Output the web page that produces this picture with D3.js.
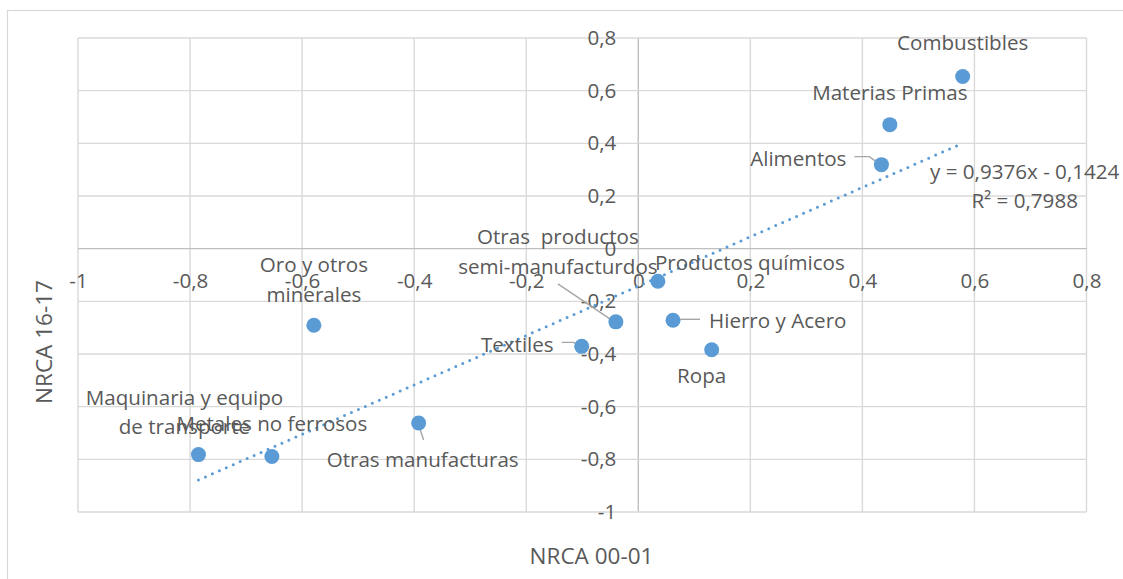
<!DOCTYPE html>
<html lang="es">
<head>
<meta charset="utf-8">
<script src="https://cdn.jsdelivr.net/npm/d3@7"></script>
<style>
  html, body { margin: 0; padding: 0; background: #fff; }
  svg { display: block; }
  text { font-family: "Open Sans", "DejaVu Sans", sans-serif; fill: #595959; }
</style>
</head>
<body>
<svg id="chart" width="1123" height="579"></svg>
<script>
// Product groups and their normalized RCA in 2000-01 (x) and 2016-17 (y)
const categories = [
  "Combustibles", "Materias Primas", "Alimentos", "Productos químicos",
  "Otras  productos semi-manufacturdos", "Hierro y Acero", "Ropa", "Textiles",
  "Otras manufacturas", "Oro y otros minerales", "Maquinaria y equipo de transporte",
  "Metales no ferrosos"
];
const nrca0001 = [0.579, 0.449, 0.434, 0.035, -0.040, 0.062, 0.131, -0.101, -0.392, -0.579, -0.785, -0.654];
const nrca1617 = [0.654, 0.471, 0.319, -0.124, -0.278, -0.272, -0.384, -0.371, -0.662, -0.291, -0.782, -0.789];

// Linear trend line
const trendSlope = 0.9376;
const trendIntercept = -0.1424;
const trendR2 = 0.7988;

// Axis ticks
const xTicks = [-1, -0.8, -0.6, -0.4, -0.2, 0, 0.2, 0.4, 0.6, 0.8];
const yTicks = [-1, -0.8, -0.6, -0.4, -0.2, 0, 0.2, 0.4, 0.6, 0.8];

// Label placement around each point: text lines, anchor, offsets, optional leader
const labelLayout = [
  { lines: ["Combustibles"], anchor: "middle", dx: 0, dy: [-34] },
  { lines: ["Materias Primas"], anchor: "middle", dx: 0, dy: [-32] },
  { lines: ["Alimentos"], anchor: "end", dx: -35, dy: [-6], leader: [[-27, -8], [-12, -8], [-4, -2]] },
  { lines: ["Productos químicos"], anchor: "start", dx: -3, dy: [-19] },
  { lines: ["Otras  productos", "semi-manufacturdos"], anchor: "middle", dx: -58, dy: [-85, -55], leader: [[-58, -38], [-3, -1]] },
  { lines: ["Hierro y Acero"], anchor: "start", dx: 36, dy: [0], leader: [[2, -1], [27, -1]] },
  { lines: ["Ropa"], anchor: "middle", dx: -10, dy: [26] },
  { lines: ["Textiles"], anchor: "end", dx: -28, dy: [-2], leader: [[-20, -4], [-8, -4], [-2, 0]] },
  { lines: ["Otras manufacturas"], anchor: "middle", dx: 4, dy: [37], leader: [[0, 2], [5, 17]] },
  { lines: ["Oro y otros", "minerales"], anchor: "middle", dx: 0, dy: [-61, -31] },
  { lines: ["Maquinaria y equipo", "de transporte"], anchor: "middle", dx: -14, dy: [-57, -28] },
  { lines: ["Metales no ferrosos"], anchor: "middle", dx: 0, dy: [-33] }
];

const FS = "20.6px";
const svg = d3.select("#chart");
const fmt = v => (v === 0 ? "0" : String(+v.toFixed(1)).replace(".", ","));

const x = d3.scaleLinear().domain([-1, 0.8]).range([78, 1086.5]);
const y = d3.scaleLinear().domain([-1, 0.8]).range([512, 38]);

// Chart frame
svg.append("rect")
  .attr("x", 7.5).attr("y", 10.5).attr("width", 1200).attr("height", 700)
  .attr("fill", "none").attr("stroke", "#d9d9d9").attr("stroke-width", 1.2);

// Gridlines
const grid = svg.append("g");
grid.selectAll("line.v").data(xTicks).join("line")
  .attr("x1", d => x(d)).attr("x2", d => x(d))
  .attr("y1", y(0.8)).attr("y2", y(-1))
  .attr("stroke", d => d === 0 ? "#bfbfbf" : "#d9d9d9").attr("stroke-width", 1.4);
grid.selectAll("line.h").data(yTicks).join("line")
  .attr("y1", d => y(d)).attr("y2", d => y(d))
  .attr("x1", x(-1)).attr("x2", x(0.8))
  .attr("stroke", d => d === 0 ? "#bfbfbf" : "#d9d9d9").attr("stroke-width", 1.4);

// Axes crossing at the origin
const xAxis = d3.axisBottom(x).tickValues(xTicks).tickFormat(fmt).tickSize(0).tickPadding(20);
const xg = svg.append("g").attr("transform", `translate(0,${y(0)})`).call(xAxis);
xg.select(".domain").remove();
xg.selectAll("text").attr("font-size", FS).attr("fill", "#595959")
  .style("font-family", "'Open Sans', sans-serif").attr("dy", "0.35em").attr("y", 32);

const yAxis = d3.axisLeft(y).tickValues(yTicks).tickFormat(fmt).tickSize(0).tickPadding(22);
const yg = svg.append("g").attr("transform", `translate(${x(0)},0)`).call(yAxis);
yg.select(".domain").remove();
yg.selectAll("text").attr("font-size", FS).attr("fill", "#595959")
  .style("font-family", "'Open Sans', sans-serif");

// Trend line (dotted)
const xMin = d3.min(nrca0001), xMax = d3.max(nrca0001);
svg.append("line")
  .attr("x1", x(xMin)).attr("y1", y(trendSlope * xMin + trendIntercept))
  .attr("x2", x(xMax)).attr("y2", y(trendSlope * xMax + trendIntercept))
  .attr("stroke", "#5b9bd5").attr("stroke-width", 3)
  .attr("stroke-linecap", "round").attr("stroke-dasharray", "0 7.6");

// Equation and R²
const eqX = x(xMax) + 62, eqY = y(trendSlope * xMax + trendIntercept);
const num = (v, n) => v.toFixed(n).replace(".", ",");
svg.append("text").attr("x", eqX).attr("y", eqY + 29).attr("dy", "0.35em")
  .attr("text-anchor", "middle").attr("font-size", FS)
  .text(`y = ${num(trendSlope, 4)}x - ${num(-trendIntercept, 4)}`);
svg.append("text").attr("x", eqX).attr("y", eqY + 58).attr("dy", "0.35em")
  .attr("text-anchor", "middle").attr("font-size", FS)
  .text(`R² = ${num(trendR2, 4)}`);

// Leader lines
const pts = categories.map((c, i) => ({ c, px: x(nrca0001[i]), py: y(nrca1617[i]), lay: labelLayout[i] }));
svg.append("g").selectAll("polyline").data(pts.filter(p => p.lay.leader)).join("polyline")
  .attr("points", p => p.lay.leader.map(([a, b]) => `${p.px + a},${p.py + b}`).join(" "))
  .attr("fill", "none").attr("stroke", "#a6a6a6").attr("stroke-width", 1.4);

// Points
svg.append("g").selectAll("circle").data(pts).join("circle")
  .attr("cx", p => p.px).attr("cy", p => p.py).attr("r", 7.5)
  .attr("fill", "#5b9bd5");

// Data labels
const lbl = svg.append("g").selectAll("text").data(pts).join("text")
  .attr("text-anchor", p => p.lay.anchor).attr("font-size", FS);
lbl.selectAll("tspan").data(p => p.lay.lines.map((t, k) => ({ t, p, k }))).join("tspan")
  .attr("x", d => d.p.px + d.p.lay.dx)
  .attr("y", d => d.p.py + d.p.lay.dy[d.k])
  .attr("dy", "0.35em")
  .attr("xml:space", "preserve")
  .style("white-space", "pre")
  .text(d => d.t);

// Axis titles
svg.append("text").attr("x", 591.5).attr("y", 556).attr("dy", "0.35em")
  .attr("text-anchor", "middle").attr("font-size", "22.5px").text("NRCA 00-01");
svg.append("text").attr("transform", "translate(44,342) rotate(-90)").attr("dy", "0.35em")
  .attr("text-anchor", "middle").attr("font-size", "22.5px").text("NRCA 16-17");
</script>
</body>
</html>
